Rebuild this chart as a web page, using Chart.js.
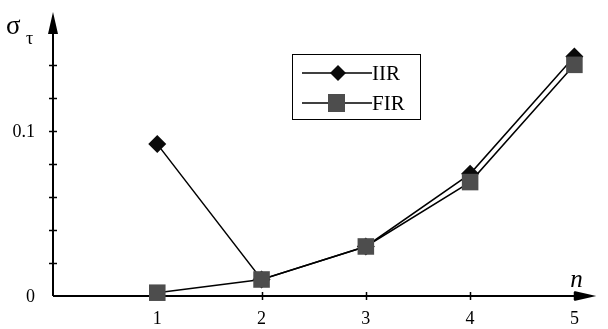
<!DOCTYPE html>
<html>
<head>
<meta charset="utf-8">
<script src="https://cdn.jsdelivr.net/npm/chart.js@4/dist/chart.umd.min.js"></script>
<style>
  html, body { margin: 0; padding: 0; background: #fff; }
  #wrap { width: 608px; height: 329px; }
</style>
</head>
<body>
<div id="wrap"><canvas id="chart"></canvas></div>
<script>
// values
const nValues = [1, 2, 3, 4, 5]
const iir = [0.092, 0.010, 0.030, 0.074, 0.145]
const fir = [0.002, 0.010, 0.030, 0.069, 0.140]
const yTickValues = [0, 0.1]
const yTickLabels = ['0', '0.1']
const yMinorTicks = [0.02, 0.04, 0.06, 0.08, 0.1, 0.12, 0.14]
const seriesNames = ['IIR', 'FIR']

const serif = "'Liberation Serif', 'DejaVu Serif', serif"

const toPoints = (ys) => nValues.map((n, i) => ({ x: n, y: ys[i] }))

// axes with arrow heads, crossing ticks and the tick labels
const axesPlugin = {
  id: 'axes',
  beforeDatasetsDraw(chart) {
    const ctx = chart.ctx
    const { left, right, top, bottom } = chart.chartArea
    const xs = chart.scales.x
    const ys = chart.scales.y
    ctx.save()
    ctx.strokeStyle = '#000'
    ctx.fillStyle = '#000'
    ctx.lineWidth = 2
    ctx.beginPath()
    ctx.moveTo(left, bottom)
    ctx.lineTo(right - 6, bottom)
    ctx.moveTo(left, bottom)
    ctx.lineTo(left, top + 6)
    ctx.stroke()
    // arrow heads
    ctx.beginPath()
    ctx.moveTo(right, bottom)
    ctx.lineTo(right - 22, bottom - 5)
    ctx.lineTo(right - 22, bottom + 5)
    ctx.closePath()
    ctx.fill()
    ctx.beginPath()
    ctx.moveTo(left, top)
    ctx.lineTo(left - 5, top + 22)
    ctx.lineTo(left + 5, top + 22)
    ctx.closePath()
    ctx.fill()
    // ticks
    ctx.lineWidth = 1.5
    ctx.beginPath()
    yMinorTicks.forEach(v => {
      const y = Math.round(ys.getPixelForValue(v)) + 0.5
      ctx.moveTo(left - 4, y)
      ctx.lineTo(left + 4, y)
    })
    nValues.forEach(n => {
      const x = Math.round(xs.getPixelForValue(n)) + 0.5
      ctx.moveTo(x, bottom - 4)
      ctx.lineTo(x, bottom + 4)
    })
    ctx.stroke()

    // tick labels
    ctx.font = '18px ' + serif
    ctx.textBaseline = 'middle'
    ctx.textAlign = 'right'
    yTickValues.forEach((v, i) => {
      ctx.fillText(yTickLabels[i], left - 18, ys.getPixelForValue(v) + 1)
    })
    ctx.textAlign = 'center'
    nValues.forEach(n => {
      ctx.fillText(String(n), xs.getPixelForValue(n), bottom + 23)
    })
    ctx.restore()
  },
  afterDraw(chart) {
    const ctx = chart.ctx
    const { right, bottom } = chart.chartArea
    ctx.save()
    ctx.fillStyle = '#000'
    ctx.textBaseline = 'alphabetic'
    // axis titles
    ctx.font = '27px ' + serif
    ctx.fillText('σ', 6, 34)
    ctx.font = '18px ' + serif
    ctx.fillText('τ', 26, 44)
    ctx.font = 'italic 25px ' + serif
    ctx.fillText('n', right - 26, bottom - 9)

    // legend box
    const bx = 292, by = 54, bw = 128, bh = 65
    ctx.strokeStyle = '#000'
    ctx.lineWidth = 1
    ctx.strokeRect(bx + 0.5, by + 0.5, bw, bh)
    const rows = [by + 19, by + 49]
    chart.data.datasets.forEach(ds => {
      const row = ds.label === 'IIR' ? rows[0] : rows[1]
      ctx.lineWidth = 1.5
      ctx.beginPath()
      ctx.moveTo(bx + 10, row)
      ctx.lineTo(bx + 80, row)
      ctx.stroke()
      ctx.fillStyle = ds.pointBackgroundColor
      ctx.beginPath()
      if (ds.pointStyle === 'rectRot') {
        ctx.moveTo(bx + 46, row - 8)
        ctx.lineTo(bx + 54, row)
        ctx.lineTo(bx + 46, row + 8)
        ctx.lineTo(bx + 38, row)
      } else {
        ctx.rect(bx + 36, row - 9, 17, 18)
      }
      ctx.closePath()
      ctx.fill()
      ctx.fillStyle = '#000'
      ctx.font = '21px ' + serif
      ctx.textBaseline = 'middle'
      ctx.fillText(ds.label, bx + 80, row + 1)
    })
    ctx.restore()
  }
}

const data = {
  datasets: [
    {
      label: seriesNames[0],
      data: toPoints(iir),
      borderColor: '#000',
      borderWidth: 1.5,
      pointStyle: 'rectRot',
      pointRadius: 9,
      pointBackgroundColor: '#0a0a0a',
      pointBorderWidth: 0,
      order: 1
    },
    {
      label: seriesNames[1],
      data: toPoints(fir),
      borderColor: '#000',
      borderWidth: 1.5,
      pointStyle: 'rect',
      pointRadius: 11.7,
      pointBackgroundColor: '#4d4d4d',
      pointBorderWidth: 0,
      order: 0
    }
  ]
}

const config = {
  type: 'line',
  data: data,
  plugins: [axesPlugin],
  options: {
    responsive: true,
    maintainAspectRatio: false,
    animation: false,
    clip: false,
    layout: { padding: { top: 12, right: 0, left: 0, bottom: 0 } },
    plugins: {
      legend: { display: false },
      tooltip: { enabled: false }
    },
    scales: {
      x: {
        type: 'linear',
        min: 0,
        max: 5.21,
        grid: { display: false },
        border: { display: false },
        ticks: { display: false },
        afterFit: (scale) => { scale.height = 33 }
      },
      y: {
        min: 0,
        max: 0.172,
        grid: { display: false },
        border: { display: false },
        ticks: { display: false },
        afterFit: (scale) => { scale.width = 53 }
      }
    }
  }
}

new Chart(document.getElementById('chart'), config)
</script>
</body>
</html>
